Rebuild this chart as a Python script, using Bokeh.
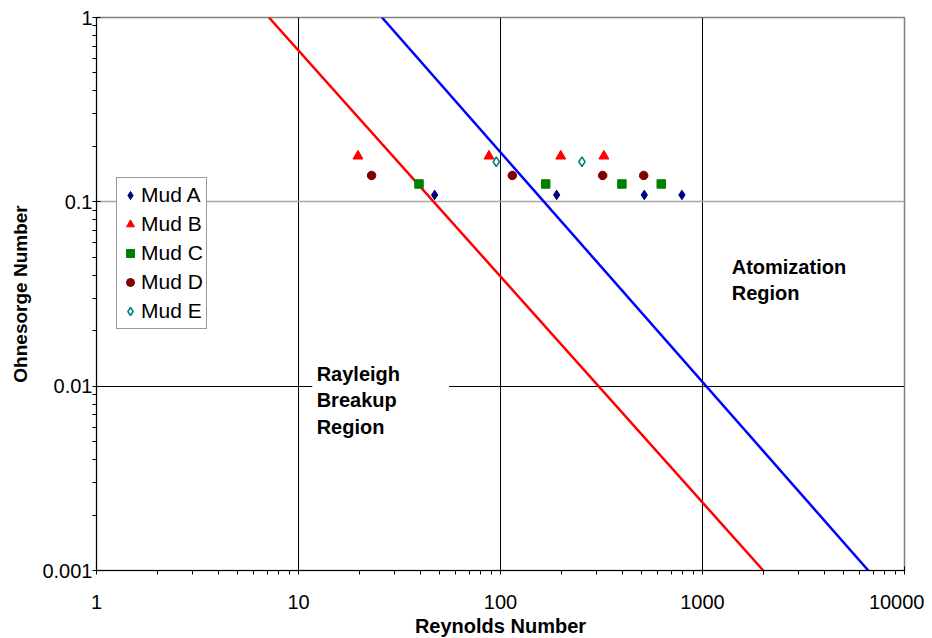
from bokeh.plotting import figure
from bokeh.models import (Range1d, FixedTicker, NumeralTickFormatter, Grid, Label,
                          BoxAnnotation, Legend, LegendItem)
from bokeh.embed import file_html
from bokeh.resources import INLINE

# ---------------- data ----------------
mud_a_re = [47.2, 189.7, 515, 791]
mud_a_oh = [0.109, 0.109, 0.109, 0.109]
mud_b_re = [19.7, 87.7, 198.7, 325]
mud_b_oh = [0.177, 0.177, 0.177, 0.177]
mud_c_re = [39.5, 167.4, 399, 625]
mud_c_oh = [0.125, 0.125, 0.125, 0.125]
mud_d_re = [23.0, 114.4, 320.6, 511.6]
mud_d_oh = [0.139, 0.139, 0.139, 0.139]
mud_e_re = [95.3, 253]
mud_e_oh = [0.165, 0.165]

red_line_re = [7.14, 2000]
red_line_oh = [1.0, 0.001]
blue_line_re = [25.9, 6620]
blue_line_oh = [1.0, 0.001]

x_ticks = [1, 10, 100, 1000, 10000]
y_ticks = [0.001, 0.01, 0.1, 1]
x_minor = [m * d for d in [1, 10, 100, 1000] for m in range(2, 10)]
y_minor = [m * d for d in [0.001, 0.01, 0.1] for m in range(2, 10)]

FONT = "Liberation Sans"

p = figure(frame_width=808, frame_height=553, x_axis_type="log", y_axis_type="log",
           x_range=Range1d(1, 10000), y_range=Range1d(0.001, 1),
           output_backend="svg", toolbar_location=None,
           min_border_left=96, min_border_right=20, min_border_top=17, min_border_bottom=50)
p.background_fill_color = "white"
p.border_fill_color = "white"
p.outline_line_color = "#808080"
p.outline_line_width = 1.5

# axes
for ax in (p.xaxis[0], p.yaxis[0]):
    ax.axis_line_color = "black"
    ax.major_tick_line_color = "black"
    ax.minor_tick_line_color = "black"
    ax.major_tick_in = 4
    ax.major_tick_out = 4
    ax.minor_tick_in = 0
    ax.minor_tick_out = 4
    ax.major_label_text_font = FONT
    ax.major_label_text_font_size = "20px"
    ax.major_label_text_color = "black"
    ax.axis_label_text_font = FONT
    ax.axis_label_text_font_style = "bold"
    ax.axis_label_text_color = "black"

p.xaxis[0].ticker = FixedTicker(ticks=x_ticks, minor_ticks=x_minor)
p.yaxis[0].ticker = FixedTicker(ticks=y_ticks, minor_ticks=y_minor)
p.xaxis[0].formatter = NumeralTickFormatter(format="0")
p.yaxis[0].formatter = NumeralTickFormatter(format="0.[000]")
p.xaxis[0].axis_label = "Reynolds Number"
p.yaxis[0].axis_label = "Ohnesorge Number"
p.xaxis[0].axis_label_text_font_size = "20px"
p.yaxis[0].axis_label_text_font_size = "19px"
p.xaxis[0].major_label_standoff = 20
p.xaxis[0].axis_label_standoff = 3
p.yaxis[0].major_label_standoff = 0
p.yaxis[0].axis_label_standoff = 8

# grids
p.xgrid[0].ticker = FixedTicker(ticks=[10, 100, 1000])
p.xgrid[0].grid_line_color = "black"
p.xgrid[0].grid_line_width = 1
p.ygrid[0].ticker = FixedTicker(ticks=[0.01])
p.ygrid[0].grid_line_color = "black"
p.ygrid[0].grid_line_width = 1
g2 = Grid(dimension=1, ticker=FixedTicker(ticks=[0.1]), grid_line_color="#a6a6a6", grid_line_width=1.5)
p.add_layout(g2)

# regime boundary lines
p.line(red_line_re, red_line_oh, line_color="#ff0000", line_width=2.5)
p.line(blue_line_re, blue_line_oh, line_color="#0000ff", line_width=2.5)

# data series
ra = p.scatter(mud_a_re, mud_a_oh, marker="diamond", size=9.5,
               fill_color="#000080", line_color="#000080")
rb = p.scatter(mud_b_re, mud_b_oh, marker="triangle", size=10,
               fill_color="#ff0000", line_color="#ff0000")
rc = p.scatter(mud_c_re, mud_c_oh, marker="square", size=8.5,
               fill_color="#008000", line_color="#008000")
rd = p.scatter(mud_d_re, mud_d_oh, marker="circle", size=8.5,
               fill_color="#800000", line_color="#800000")
re_ = p.scatter(mud_e_re, mud_e_oh, marker="diamond", size=9.5,
                fill_color="white", line_color="#008080", line_width=1.5)

legend = Legend(items=[LegendItem(label="Mud A", renderers=[ra]),
                       LegendItem(label="Mud B", renderers=[rb]),
                       LegendItem(label="Mud C", renderers=[rc]),
                       LegendItem(label="Mud D", renderers=[rd]),
                       LegendItem(label="Mud E", renderers=[re_])],
                location=(20, 241))
legend.label_text_font = FONT
legend.label_text_font_size = "21px"
legend.label_text_color = "black"
legend.label_height = 28
legend.glyph_height = 28
legend.glyph_width = 20
legend.label_standoff = 1
legend.spacing = 1
legend.padding = 3
legend.margin = 0
legend.border_line_color = "#333333"
legend.border_line_width = 1
legend.background_fill_color = "white"
legend.background_fill_alpha = 1
p.add_layout(legend, "center")

# region annotations
box = BoxAnnotation(left=11.7, right=55.6, bottom=0.0088, top=0.0114,
                    fill_color="white", fill_alpha=1, line_alpha=0)
p.add_layout(box)
p.add_layout(Label(x=12.3, y=0.0134, text="Rayleigh\nBreakup\nRegion",
                   text_font=FONT, text_font_style="bold", text_font_size="20px",
                   text_baseline="top", text_align="left", text_color="black",
                   text_line_height=1.2))
p.add_layout(Label(x=1395, y=0.0508, text="Atomization\nRegion",
                   text_font=FONT, text_font_style="bold", text_font_size="20px",
                   text_baseline="top", text_align="left", text_color="black",
                   text_line_height=1.2))

open("out.html", "w").write(file_html(p, INLINE))
